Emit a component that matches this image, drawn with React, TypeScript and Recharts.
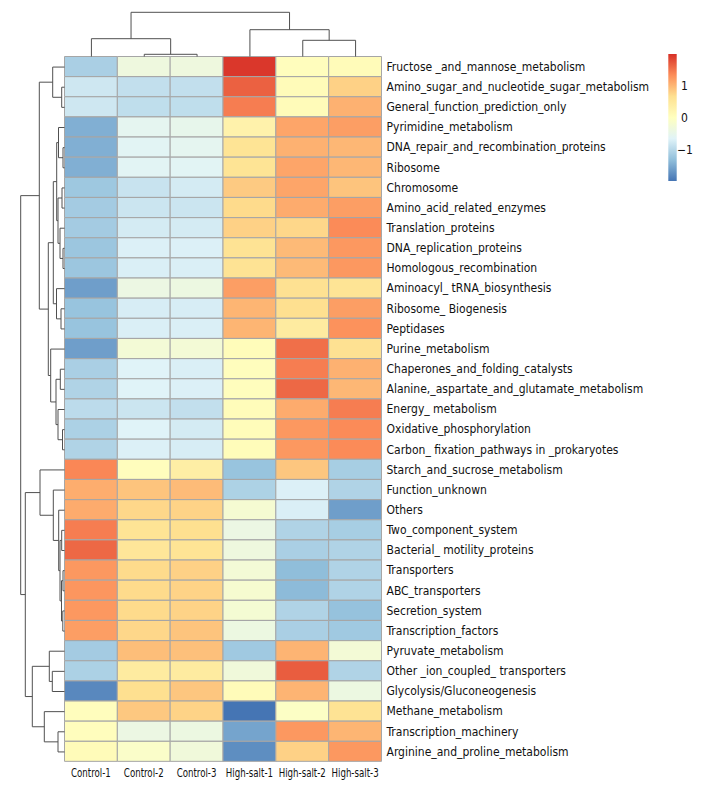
import { Bar, BarChart, Cell, ReferenceLine, Scatter, ScatterChart, XAxis, YAxis } from "recharts";

const rowLabels = [
  "Fructose _and_mannose_metabolism",
  "Amino_sugar_and_nucleotide_sugar_metabolism",
  "General_function_prediction_only",
  "Pyrimidine_metabolism",
  "DNA_repair_and_recombination_proteins",
  "Ribosome",
  "Chromosome",
  "Amino_acid_related_enzymes",
  "Translation_proteins",
  "DNA_replication_proteins",
  "Homologous_recombination",
  "Aminoacyl_ tRNA_biosynthesis",
  "Ribosome_ Biogenesis",
  "Peptidases",
  "Purine_metabolism",
  "Chaperones_and_folding_catalysts",
  "Alanine,_aspartate_and_glutamate_metabolism",
  "Energy_ metabolism",
  "Oxidative_phosphorylation",
  "Carbon_ fixation_pathways in _prokaryotes",
  "Starch_and_sucrose_metabolism",
  "Function_unknown",
  "Others",
  "Two_component_system",
  "Bacterial_ motility_proteins",
  "Transporters",
  "ABC_transporters",
  "Secretion_system",
  "Transcription_factors",
  "Pyruvate_metabolism",
  "Other _ion_coupled_ transporters",
  "Glycolysis/Gluconeogenesis",
  "Methane_metabolism",
  "Transcription_machinery",
  "Arginine_and_proline_metabolism",
];

const colLabels = ["Control-1", "Control-2", "Control-3", "High-salt-1", "High-salt-2", "High-salt-3"];

// row-scaled values, one array per sample
const control1 = [-1.1, -0.8, -0.8, -1.45, -1.45, -1.45, -1.2, -1.15, -1.15, -1.22, -1.22, -1.6, -1.25, -1.25, -1.6, -1.1, -1.05, -0.95, -1.08, -1.05, 1.38, 1.08, 1.1, 1.45, 1.6, 1.25, 1.27, 1.25, 1.2, -1.15, -1.08, -1.8, 0.05, 0.05, 0.1];
const control2 = [-0.35, -0.9, -0.92, -0.55, -0.6, -0.6, -0.85, -0.82, -0.75, -0.68, -0.7, -0.4, -0.72, -0.7, -0.25, -0.65, -0.65, -0.82, -0.65, -0.68, 0.05, 0.9, 0.75, 0.6, 0.55, 0.72, 0.72, 0.72, 0.75, 0.95, 0.45, 0.68, 0.87, -0.4, -0.1];
const control3 = [-0.35, -0.9, -0.92, -0.5, -0.55, -0.6, -0.75, -0.82, -0.75, -0.68, -0.7, -0.38, -0.72, -0.7, -0.25, -0.7, -0.68, -0.9, -0.75, -0.72, 0.38, 0.97, 0.78, 0.68, 0.6, 0.8, 0.78, 0.78, 0.9, 0.93, 0.45, 0.88, 0.78, -0.38, -0.3];
const highSalt1 = [1.95, 1.65, 1.45, 0.3, 0.6, 0.6, 0.85, 0.72, 0.8, 0.62, 0.62, 1.2, 1.02, 1.02, 0.08, 0.05, 0.05, 0.08, 0.08, 0.08, -1.25, -1.07, -0.2, -0.4, -0.35, -0.25, -0.18, -0.22, -0.38, -1.18, -0.3, 0.1, -1.97, -1.55, -1.75];
const highSalt2 = [0.05, 0.1, 0.1, 1.15, 1.05, 1.15, 1.15, 1.1, 0.75, 0.98, 0.98, 0.65, 0.68, 0.45, 1.55, 1.45, 1.6, 1.1, 1.25, 1.25, 0.88, -0.68, -0.7, -1.05, -1.1, -1.32, -1.34, -1.05, -1.1, 1.03, 1.68, 1.03, -0.05, 1.25, 0.8];
const highSalt3 = [0.1, 0.8, 1.05, 1.2, 1.0, 1.0, 0.9, 1.2, 1.35, 1.25, 1.25, 0.6, 1.2, 1.3, 0.65, 1.05, 1.0, 1.45, 1.35, 1.35, -1.12, -1.05, -1.6, -1.12, -1.05, -1.05, -1.05, -1.27, -1.18, -0.25, -1.05, -0.38, 0.62, 1.02, 1.25];
const columns = [control1, control2, control3, highSalt1, highSalt2, highSalt3];

// dendrograms as [height, left, right]; leaves are row / column indexes
type Tree = number | [number, Tree, Tree];
const rowTree: Tree = [43.8,
  [25.2,
    [11.8, 0, [2.8, 1, 2]],
    [16.2,
      [11.2,
        [7.8, [6, 3, [1.5, 4, 5]], [6.5, [2.5, 6, 7], [4.5, 8, [1.5, 9, 10]]]],
        [8, 11, [3.5, 12, 13]]],
      [13.8, 14, [8.5, [4.2, 15, 16], [6.5, 17, [2, 18, 19]]]]]],
  [39.2,
    [24.5, 20, [11.2, 21, [5.8, 22, [4.5, [2.8, 23, 24], [3, [1.5, 25, 26], [1.7, 27, 28]]]]]],
    [32.2, [15.2, 29, [12.2, 30, 31]], [20.2, 32, [6.5, 33, 34]]]]];
const colTree: Tree = [44.2, [17.8, 0, [2.2, 1, 2]], [26.8, 3, [16.2, 4, 5]]];

const palette = ["#4575B4", "#91BFDB", "#E0F3F8", "#FFFFBF", "#FEE090", "#FC8D59", "#D73027"];
const vMin = -1.97;
const vMax = 2.0;
const legendTicks = [1, 0, -1];

const FONT = "'DejaVu Sans Condensed', 'Liberation Sans Narrow', sans-serif";

function hexToRgb(h: string) {
  return [1, 3, 5].map((i) => parseInt(h.slice(i, i + 2), 16));
}

function colorFor(v: number) {
  const t = Math.min(1, Math.max(0, (v - vMin) / (vMax - vMin))) * (palette.length - 1);
  const i = Math.min(palette.length - 2, Math.floor(t));
  const f = t - i;
  const a = hexToRgb(palette[i]);
  const b = hexToRgb(palette[i + 1]);
  const c = a.map((x, k) => Math.round(x + (b[k] - x) * f));
  return `rgb(${c[0]},${c[1]},${c[2]})`;
}

type Seg = { p1: number; h1: number; p2: number; h2: number };

function walk(t: Tree, segs: Seg[]): { p: number; h: number } {
  if (typeof t === "number") return { p: t + 0.5, h: 0 };
  const [h, l, r] = t;
  const a = walk(l, segs);
  const b = walk(r, segs);
  segs.push({ p1: a.p, h1: h, p2: b.p, h2: h });
  segs.push({ p1: a.p, h1: a.h, p2: a.p, h2: h });
  segs.push({ p1: b.p, h1: b.h, p2: b.p, h2: h });
  return { p: (a.p + b.p) / 2, h };
}

const rowSegs: Seg[] = [];
walk(rowTree, rowSegs);
const colSegs: Seg[] = [];
walk(colTree, colSegs);

const heatData = rowLabels.map((name) => ({ name, c0: 1, c1: 1, c2: 1, c3: 1, c4: 1, c5: 1 }));
const rowLeaves = rowLabels.map((_, i) => ({ h: 0, p: i + 0.5 }));
const colLeaves = colLabels.map((_, i) => ({ p: i + 0.5, h: 0 }));

const LINE = "#505050";

const ColTick = (props: any) => {
  const { x, y, payload } = props;
  return (
    <g transform={`translate(${x},${y}) scale(0.8,1)`}>
      <text x={0} y={0} dy="0.71em" textAnchor="middle" fontSize={12} fontFamily={FONT} fill="#111">
        {colLabels[Math.floor(payload.value)]}
      </text>
    </g>
  );
};

export default function App() {
  const top = 56.5;
  const left = 64.5;
  const plotW = 317;
  const plotH = 705;
  const legendTop = 54;
  const legendBottom = 181;
  const ly = (v: number) => legendTop + ((vMax - v) / (vMax - vMin)) * (legendBottom - legendTop);
  return (
    <div style={{ position: "absolute", left: 0, top: 0, width: 708, height: 792, background: "#fff", fontFamily: FONT }}>
      <div style={{ position: "absolute", left: 0, top: 0 }}>
        <BarChart
          width={708}
          height={792}
          data={heatData}
          layout="vertical"
          barCategoryGap={0}
          margin={{ top, left, right: 0, bottom: 0 }}
        >
          <XAxis
            type="number"
            domain={[0, 6]}
            ticks={[0.5, 1.5, 2.5, 3.5, 4.5, 5.5]}
            axisLine={false}
            tickLine={false}
            tickSize={0}
            tickMargin={7}
            height={30.5}
            interval={0}
            tick={<ColTick />}
          />
          <YAxis
            type="category"
            dataKey="name"
            orientation="right"
            width={326.5}
            axisLine={false}
            tickLine={false}
            tickSize={0}
            tickMargin={5}
            interval={0}
            tick={{ fill: "#111", fontSize: 12, fontFamily: FONT, textAnchor: "start" }}
          />
          {columns.map((col, ci) => (
            <Bar key={ci} dataKey={`c${ci}`} stackId="h" isAnimationActive={false}>
              {col.map((v, ri) => (
                <Cell key={ri} fill={colorFor(v)} stroke="#a6a6a6" strokeWidth={1} />
              ))}
            </Bar>
          ))}
        </BarChart>
      </div>

      <div style={{ position: "absolute", left: 0, top }}>
        <ScatterChart width={left} height={plotH} margin={{ top: 0, right: 0, bottom: 0, left: 0 }}>
          <XAxis type="number" dataKey="h" domain={[0, left]} reversed hide />
          <YAxis type="number" dataKey="p" domain={[0, 35]} reversed hide />
          <Scatter data={rowLeaves} fillOpacity={0} isAnimationActive={false} />
          {rowSegs.map((s, i) => (
            <ReferenceLine
              key={i}
              segment={[{ x: s.h1, y: s.p1 }, { x: s.h2, y: s.p2 }]}
              stroke={LINE}
              strokeWidth={1}
              ifOverflow="visible"
            />
          ))}
        </ScatterChart>
      </div>

      <div style={{ position: "absolute", left, top: 0 }}>
        <ScatterChart width={plotW} height={top} margin={{ top: 0, right: 0, bottom: 0, left: 0 }}>
          <XAxis type="number" dataKey="p" domain={[0, 6]} hide />
          <YAxis type="number" dataKey="h" domain={[0, top]} hide />
          <Scatter data={colLeaves} fillOpacity={0} isAnimationActive={false} />
          {colSegs.map((s, i) => (
            <ReferenceLine
              key={i}
              segment={[{ x: s.p1, y: s.h1 }, { x: s.p2, y: s.h2 }]}
              stroke={LINE}
              strokeWidth={1}
              ifOverflow="visible"
            />
          ))}
        </ScatterChart>
      </div>

      <svg style={{ position: "absolute", left: 0, top: 0 }} width={708} height={792} pointerEvents="none">
        <defs>
          <linearGradient id="legendGrad" x1="0" y1="1" x2="0" y2="0">
            {palette.map((c, i) => (
              <stop key={i} offset={i / (palette.length - 1)} stopColor={c} />
            ))}
          </linearGradient>
        </defs>
        <rect x={668.3} y={legendTop} width={8.4} height={legendBottom - legendTop} fill="url(#legendGrad)" />
        {legendTicks.map((t) => (
          <text
            key={t}
            x={t < 0 ? 677 : 681}
            y={ly(t)}
            dominantBaseline="central"
            fontSize={12}
            fontFamily={FONT}
            fill="#111"
          >
            {t < 0 ? `\u2212${-t}` : t}
          </text>
        ))}
      </svg>
    </div>
  );
}
